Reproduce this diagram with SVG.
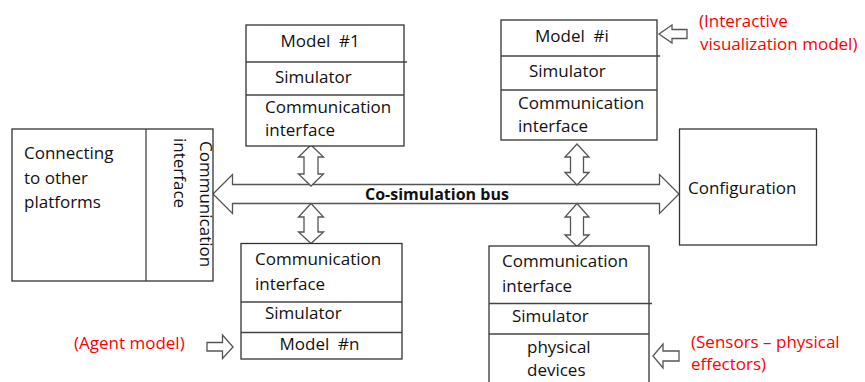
<svg xmlns="http://www.w3.org/2000/svg" width="865" height="382" viewBox="0 0 865 382">
<style>
.box{fill:#fff;stroke:#333;stroke-width:1.3}
.div{stroke:#444;stroke-width:1.3;fill:none}
.t{font-family:"Open Sans","Noto Sans","Liberation Sans",sans-serif;font-size:17px;fill:#111}
.r{font-family:"Open Sans","Noto Sans","Liberation Sans",sans-serif;font-size:17px;fill:#ff0000}
.b{font-family:"Open Sans","Noto Sans","Liberation Sans",sans-serif;font-size:16px;font-weight:bold;fill:#111}
.arr{fill:#fff;stroke:#555;stroke-width:1.3;stroke-linejoin:miter}
</style>
<rect width="865" height="382" fill="#fff"/>
<g id="connectors">
<polygon class="arr" points="213,194 232.5,174.5 232.5,184.5 659.5,184.5 659.5,174.5 679,194 659.5,213.5 659.5,203.5 232.5,203.5 232.5,213.5"/>
<polygon class="arr" points="311,145 323.5,157 318,157 318,174 323.5,174 311,186 298.5,174 304,174 304,157 298.5,157"/>
<polygon class="arr" points="311,203.5 323.5,217 318,217 318,232 323.5,232 311,243.5 298.5,232 304,232 304,217 298.5,217"/>
<polygon class="arr" points="577,144 589,157 583.5,157 583.5,172.5 589,172.5 577,185 565,172.5 570.5,172.5 570.5,157 565,157"/>
<polygon class="arr" points="577,203.5 589,217 583.5,217 583.5,235 589,235 577,246.5 565,235 570.5,235 570.5,217 565,217"/>
<polygon class="arr" points="659,34 672,25 672,29.5 687,29.5 687,38.5 672,38.5 672,43"/>
<polygon class="arr" points="653,356 663,344 663,351 679,351 679,361 663,361 663,368"/>
<polygon class="arr" points="233,347 222.5,335 222.5,342.5 207,342.5 207,351 222.5,351 222.5,358.5"/>
<text class="b" x="365" y="199.5">Co-simulation bus</text>
</g>
<g id="platforms">
<rect class="box" x="12" y="129" width="201" height="152"/>
<line class="div" x1="146" y1="129" x2="146" y2="281"/>
<text class="t" x="24" y="159">Connecting</text>
<text class="t" x="24" y="184">to other</text>
<text class="t" x="24" y="208">platforms</text>
<text class="t" transform="translate(200,141) rotate(90)">Communication</text>
<text class="t" transform="translate(174,138) rotate(90)">interface</text>
</g>
<g id="model1">
<rect class="box" x="246" y="25" width="158" height="121"/>
<line class="div" x1="246" y1="62" x2="407" y2="62"/>
<line class="div" x1="246" y1="95" x2="404" y2="95"/>
<text class="t" x="280.5" y="47">Model&#160; #1</text>
<text class="t" x="275" y="82.5">Simulator</text>
<text class="t" x="265" y="113">Communication</text>
<text class="t" x="265" y="135.5">interface</text>
</g>
<g id="modeli">
<rect class="box" x="501" y="20" width="156" height="120"/>
<line class="div" x1="501" y1="56" x2="660" y2="56"/>
<line class="div" x1="501" y1="90" x2="657" y2="90"/>
<text class="t" x="535" y="42">Model&#160; #i</text>
<text class="t" x="529" y="77">Simulator</text>
<text class="t" x="518" y="109">Communication</text>
<text class="t" x="518" y="132">interface</text>
</g>
<g id="interactive-label">
<text class="r" x="699" y="27">(Interactive</text>
<text class="r" x="700" y="49.5">visualization model)</text>
</g>
<g id="configuration">
<rect class="box" x="679.5" y="129" width="137" height="116"/>
<text class="t" x="688" y="194">Configuration</text>
</g>
<g id="modeln">
<rect class="box" x="241" y="243.5" width="161" height="115.5"/>
<line class="div" x1="241" y1="302" x2="402" y2="302"/>
<line class="div" x1="241" y1="332.5" x2="402" y2="332.5"/>
<text class="t" x="255" y="265">Communication</text>
<text class="t" x="255" y="289.5">interface</text>
<text class="t" x="265" y="318.5">Simulator</text>
<text class="t" x="279.5" y="349.5">Model&#160; #n</text>
</g>
<g id="agent-label">
<text class="r" x="74" y="349">(Agent model)</text>
</g>
<g id="physical">
<rect class="box" x="489" y="246" width="160" height="150"/>
<line class="div" x1="489" y1="303.5" x2="652" y2="303.5"/>
<line class="div" x1="489" y1="334" x2="649" y2="334"/>
<text class="t" x="502" y="267">Communication</text>
<text class="t" x="502" y="292">interface</text>
<text class="t" x="512" y="322">Simulator</text>
<text class="t" x="527" y="353">physical</text>
<text class="t" x="527" y="376">devices</text>
</g>
<g id="sensors-label">
<text class="r" x="691" y="347.5">(Sensors – physical</text>
<text class="r" x="691" y="370">effectors)</text>
</g>
</svg>
